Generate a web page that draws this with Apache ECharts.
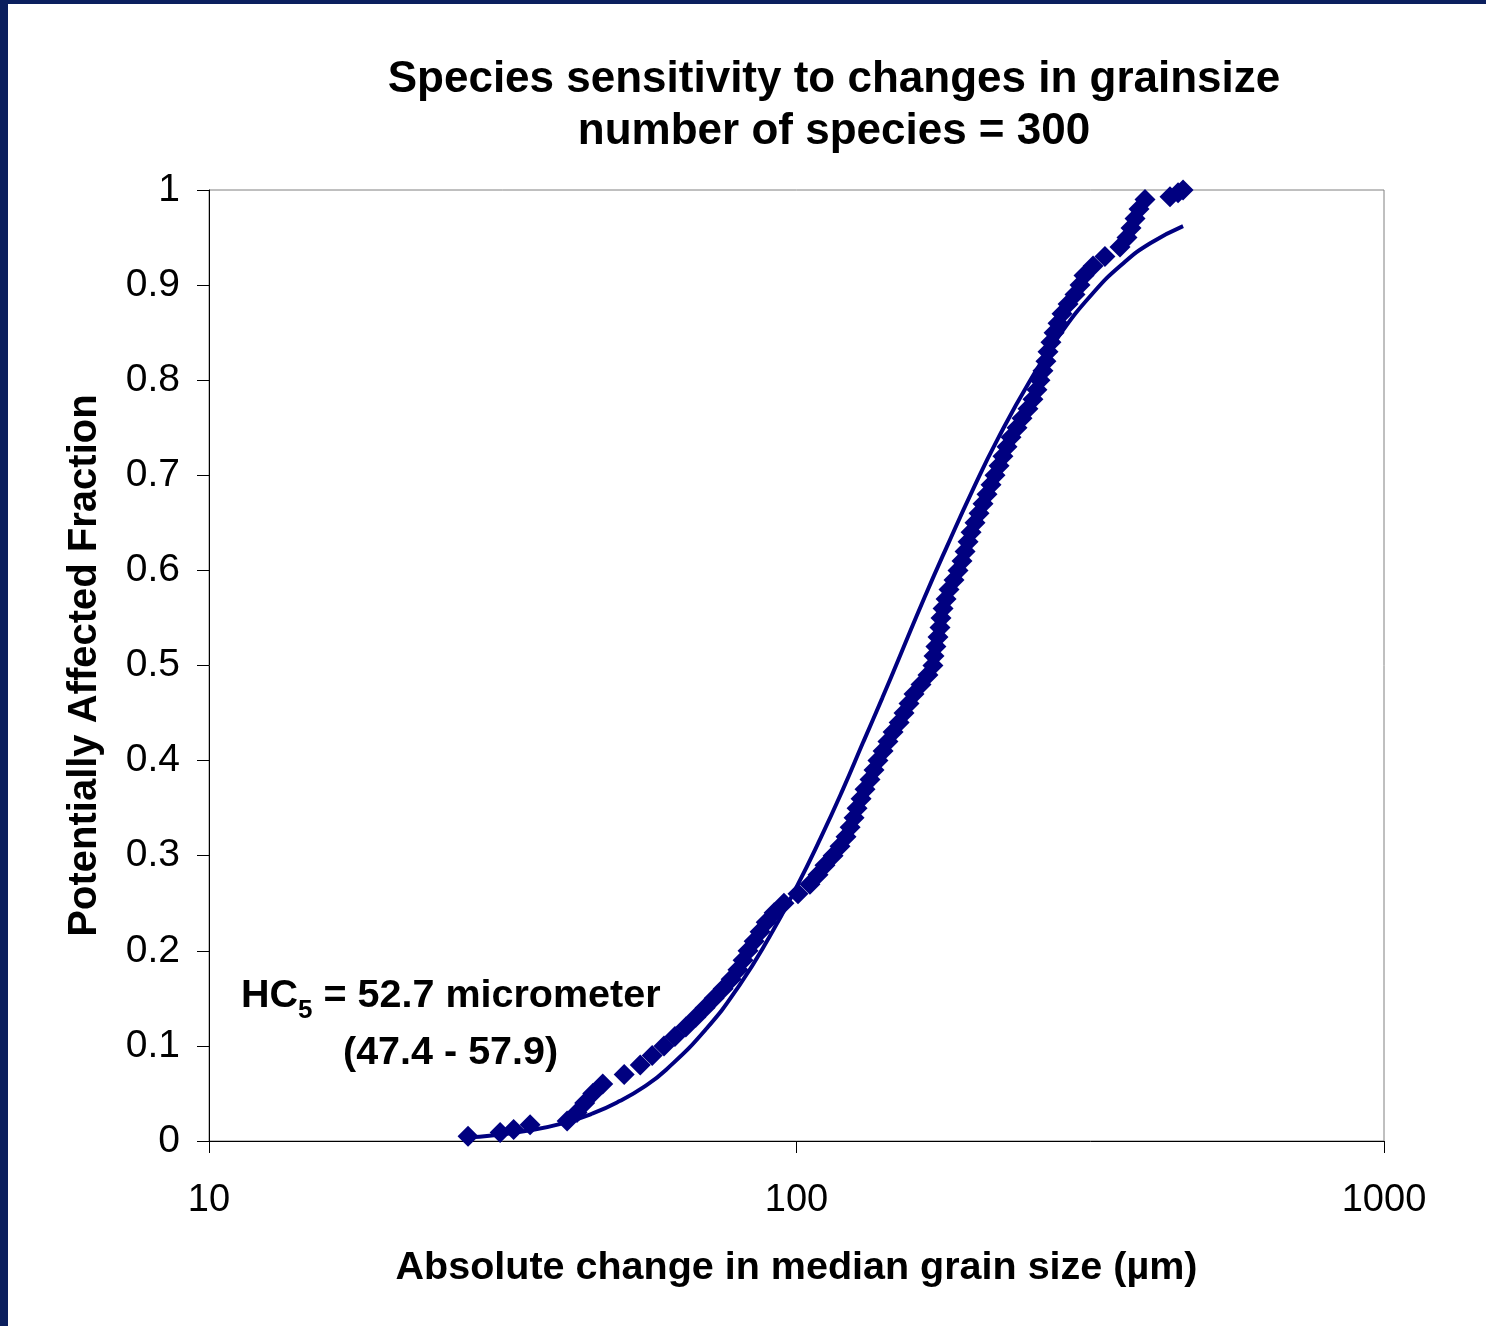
<!DOCTYPE html>
<html>
<head>
<meta charset="utf-8">
<script src="https://cdn.jsdelivr.net/npm/echarts@6/dist/echarts.min.js"></script>
<style>
  html, body { margin: 0; padding: 0; background: #0b1f5e; }
  #wrap { position: absolute; left: 8px; top: 4px; right: 0; bottom: 0; background: #fff; }
  #chart { position: absolute; left: -8px; top: -4px; width: 1486px; height: 1326px; }
</style>
</head>
<body>
<div id="wrap"><div id="chart"></div></div>
<script>
// observed species (grain size change in µm) and their cumulative fraction
const speciesX = [27.6, 31.3, 33.0, 35.2, 40.7, 42.3, 43.6, 45.0, 46.8, 50.9,
  54.2, 56.8, 59.5, 62.1, 64.8, 67.4, 69.9, 72.4, 75.0, 77.4,
  79.5, 81.1, 82.7, 84.7, 86.7, 88.8, 91.6, 95.2, 100.6, 105.4,
  108.8, 111.8, 115.4, 118.6, 121.4, 123.4, 125.3, 126.8, 128.8, 130.8,
  133.4, 135.5, 137.6, 140.4, 143.1, 146.0, 149.5, 152.4, 155.4, 158.5,
  162.9, 167.4, 170.7, 171.4, 172.7, 174.1, 175.5, 176.2, 177.6, 179.7,
  181.8, 185.4, 188.3, 191.3, 193.6, 195.9, 198.2, 201.3, 204.5, 207.7,
  211.0, 214.3, 217.7, 221.2, 224.6, 228.2, 231.8, 237.3, 242.0, 247.7,
  252.6, 256.6, 259.7, 262.7, 265.8, 268.0, 271.1, 274.4, 278.7, 283.1,
  289.9, 297.9, 303.8, 308.6, 319.7, 335.0, 355.3, 365.2, 371.0, 376.9,
  382.8, 391.9, 432.3, 446.1, 455.0];
const speciesY = [0.005, 0.009, 0.012, 0.017, 0.021, 0.03, 0.04, 0.05, 0.06, 0.07,
  0.08, 0.09, 0.10, 0.11, 0.12, 0.13, 0.14, 0.15, 0.16, 0.17,
  0.18, 0.19, 0.20, 0.21, 0.22, 0.23, 0.24, 0.25, 0.26, 0.27,
  0.28, 0.29, 0.30, 0.31, 0.32, 0.33, 0.34, 0.35, 0.36, 0.37,
  0.38, 0.39, 0.40, 0.41, 0.42, 0.43, 0.44, 0.45, 0.46, 0.47,
  0.48, 0.49, 0.50, 0.51, 0.52, 0.53, 0.54, 0.55, 0.56, 0.57,
  0.58, 0.59, 0.60, 0.61, 0.62, 0.63, 0.64, 0.65, 0.66, 0.67,
  0.68, 0.69, 0.70, 0.71, 0.72, 0.73, 0.74, 0.75, 0.76, 0.77,
  0.78, 0.79, 0.80, 0.81, 0.82, 0.83, 0.84, 0.85, 0.86, 0.87,
  0.88, 0.89, 0.90, 0.91, 0.92, 0.93, 0.94, 0.95, 0.96, 0.97,
  0.98, 0.99, 0.993, 0.997, 1.0];

// fitted curve
const fitX = [27.8, 30, 35, 40, 45, 50, 55, 60, 70, 80, 90, 100, 110, 120, 130,
  140, 150, 165, 180, 200, 220, 250, 280, 320, 360, 400, 455];
const fitY = [0.004, 0.0055, 0.011, 0.0185, 0.029, 0.042, 0.057, 0.075, 0.117, 0.164,
  0.215, 0.267, 0.319, 0.370, 0.420, 0.466, 0.510, 0.571, 0.624, 0.686,
  0.738, 0.800, 0.847, 0.892, 0.923, 0.944, 0.962];

const navy = "#000080";
const font = "Liberation Sans, Arial, sans-serif";

const myChart = echarts.init(document.getElementById("chart"));
myChart.setOption({
  backgroundColor: "transparent",
  animation: false,
  title: {
    text: "Species sensitivity to changes in grainsize\nnumber of species = 300",
    left: 829,
    top: 49,
    textAlign: "center",
    textStyle: { fontFamily: font, fontSize: 44, fontWeight: "bold", color: "#000", lineHeight: 52 },
  },
  grid: {
    left: 209,
    right: 102,
    top: 190,
    bottom: 185,
    show: true,
    borderColor: "#808080",
    borderWidth: 1,
  },
  xAxis: {
    type: "log",
    logBase: 10,
    min: 10,
    max: 1000,
    name: "Absolute change in median grain size (µm)",
    nameLocation: "middle",
    nameGap: 107,
    nameTextStyle: { fontFamily: font, fontSize: 39.5, fontWeight: "bold", color: "#000" },
    axisLine: { lineStyle: { color: "#000", width: 1 } },
    axisTick: { length: 12, lineStyle: { color: "#000" } },
    minorTick: { show: false },
    splitLine: { show: false },
    axisLabel: { fontFamily: font, fontSize: 38, color: "#000", margin: 41, formatter: (v) => String(Math.round(v)) },
  },
  yAxis: {
    type: "value",
    min: 0,
    max: 1,
    interval: 0.1,
    name: "Potentially Affected Fraction",
    nameLocation: "middle",
    nameGap: 104,
    nameTextStyle: { fontFamily: font, fontSize: 40, fontWeight: "bold", color: "#000" },
    axisLine: { show: true, lineStyle: { color: "#000", width: 1 } },
    axisTick: { show: true, length: 12, lineStyle: { color: "#000" } },
    splitLine: { show: false },
    axisLabel: { fontFamily: font, fontSize: 39, color: "#000", margin: 29 },
  },
  graphic: [
    {
      type: "text",
      left: 241,
      top: 976,
      style: {
        text: "{a|HC}{s|5}{a| = 52.7 micrometer}",
        rich: {
          a: { fontFamily: font, fontSize: 39.5, fontWeight: "bold", fill: "#000", lineHeight: 46, verticalAlign: "bottom" },
          s: { fontFamily: font, fontSize: 26, fontWeight: "bold", fill: "#000", lineHeight: 46, verticalAlign: "bottom", padding: [0, 0, -8, 0] },
        },
      },
    },
    {
      type: "text",
      left: 343,
      top: 1033,
      style: { text: "(47.4 - 57.9)", font: "bold 39.5px " + font, fill: "#000" },
    },
  ],
  series: [
    {
      name: "species",
      type: "scatter",
      symbol: "diamond",
      symbolSize: 21,
      itemStyle: { color: navy, opacity: 1 },
      data: speciesX.map((v, i) => [v, speciesY[i]]),
      z: 2,
    },
    {
      name: "fit",
      type: "line",
      smooth: true,
      showSymbol: false,
      lineStyle: { color: navy, width: 4 },
      data: fitX.map((v, i) => [v, fitY[i]]),
      z: 3,
    },
  ],
});
</script>
</body>
</html>
